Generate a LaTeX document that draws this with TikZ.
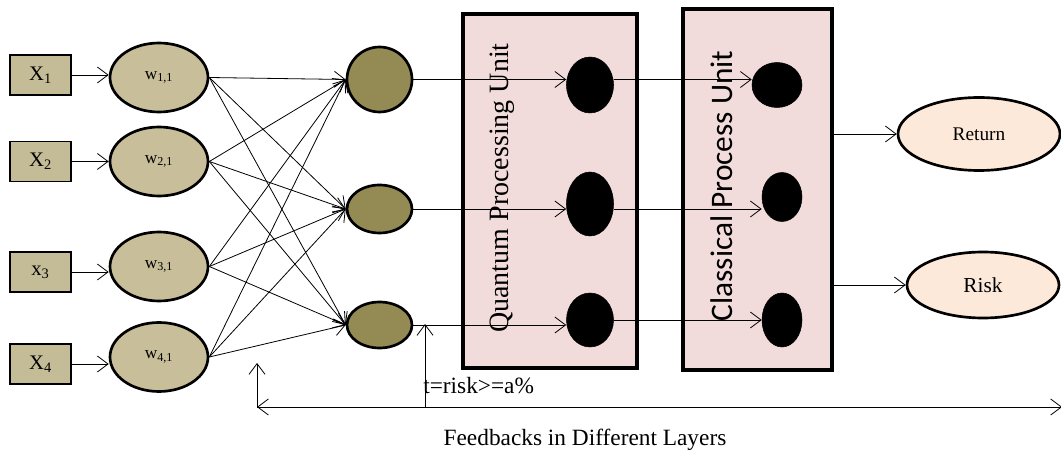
\documentclass[tikz,border=0pt]{standalone}
\usepackage{fontspec}
\setmainfont{Liberation Serif}
\newfontfamily\calfont{Carlito}
\usetikzlibrary{arrows.meta,shapes.geometric}
\definecolor{tanbox}{HTML}{C4BC96}
\definecolor{tanell}{HTML}{C8BF9A}
\definecolor{olive}{HTML}{948A54}
\definecolor{pinkbox}{HTML}{F2DCDB}
\definecolor{peach}{HTML}{FDE9D9}
\begin{document}
\begin{tikzpicture}[x=0.75pt,y=-0.75pt,
  arr/.style={-{Straight Barb[length=8pt,width=12pt]}, line width=0.6pt},
  inbox/.style={draw, line width=1.2pt, fill=tanbox, minimum width=45.75pt, minimum height=30pt, inner sep=0pt, font=\fontsize{15.5}{15.5}\selectfont},
  wnode/.style={ellipse, draw, line width=2pt, fill=tanell, minimum width=73.5pt, minimum height=51.75pt, inner sep=0pt, font=\fontsize{13}{13}\selectfont},
  hnode/.style={ellipse, draw, line width=2pt, fill=olive, inner sep=0pt},
  bnode/.style={ellipse, draw, fill=black, inner sep=0pt},
  unitbox/.style={draw, line width=2.5pt, fill=pinkbox, inner sep=0pt},
  outnode/.style={ellipse, draw, line width=2pt, fill=peach, inner sep=0pt}]
\useasboundingbox (0,0) rectangle (1061,456);

% input boxes
\node[inbox] (x1) at (40.5,75) {X\textsubscript{1}};
\node[inbox] (x2) at (40.5,161.5) {X\textsubscript{2}};
\node[inbox] (x3) at (40.5,272) {x\textsubscript{3}};
\node[inbox] (x4) at (40.5,364) {X\textsubscript{4}};

% weight ellipses
\node[wnode] (w1) at (159,77.5) {w\textsubscript{1,1}};
\node[wnode] (w2) at (159,161.5) {w\textsubscript{2,1}};
\node[wnode] (w3) at (159,266.5) {w\textsubscript{3,1}};
\node[wnode] (w4) at (159,357) {w\textsubscript{4,1}};

% hidden nodes
\node[hnode, minimum width=48.75pt, minimum height=48.75pt] (h1) at (379.5,79.5) {};
\node[hnode, minimum width=48.75pt, minimum height=36pt] (h2) at (379.5,209) {};
\node[hnode, minimum width=48.75pt, minimum height=34.5pt] (h3) at (379.5,325) {};

% unit boxes
\node[unitbox, minimum width=130.5pt, minimum height=265.5pt] (qbox) at (550,191) {};
\node[unitbox, minimum width=111.75pt, minimum height=270.75pt] (cbox) at (757.5,189.5) {};
\node[rotate=90, font=\fontsize{21}{21}\selectfont] (qlab) at (502,188) {Quantum Processing Unit};
\node[rotate=90, font=\calfont\fontsize{23.5}{23.5}\selectfont] (clab) at (722,186) {Classical Process Unit};

% black nodes
\node[bnode, minimum width=35.25pt, minimum height=42pt] (q1) at (590,85) {};
\node[bnode, minimum width=35.25pt, minimum height=48pt] (q2) at (590,204) {};
\node[bnode, minimum width=35.25pt, minimum height=40.5pt] (q3) at (590,320) {};
\node[bnode, minimum width=37.5pt, minimum height=33.75pt] (c1) at (777,85) {};
\node[bnode, minimum width=30pt, minimum height=36.75pt] (c2) at (782,197) {};
\node[bnode, minimum width=30pt, minimum height=40.5pt] (c3) at (782,320) {};

% outputs
\node[outnode, minimum width=121.5pt, minimum height=54.75pt, font=\fontsize{14.5}{14.5}\selectfont] (ret) at (979,134) {Return};
\node[outnode, minimum width=114pt, minimum height=49.5pt, font=\fontsize{16}{16}\selectfont] (risk) at (983,285) {Risk};

% input arrows
\foreach \i in {1,2,3,4} {\draw[arr] (x\i.east) -- (x\i.east -| w\i.west);}
% fully connected
\foreach \i in {1,2,3,4} {\foreach \j in {1,2,3} {\draw[arr] (w\i.east) -- (h\j.west);}}

% rows
\draw[arr] (h1.east) -- (h1.east -| q1.west);
\draw[arr] (h1.east -| q1.east) -- (h1.east -| c1.west);
\draw[arr] (h2.east) -- (h2.east -| q2.west);
\draw[arr] (h2.east -| q2.east) -- (h2.east -| c2.west);
\draw[arr] (h3.east) -- (h3.east -| q3.west);
\draw[arr] (q3.east) -- (c3.west);

% outputs
\draw[arr] (cbox.east |- ret.west) -- (ret.west);
\draw[arr] (cbox.east |- risk.west) -- (risk.west);

% feedback
\coordinate (fbL) at (257,407);
\coordinate (fbR) at (1062,407);
\coordinate (fbM) at (425,407);
\coordinate (fbUp) at (257,363);
\coordinate (fbT) at (425,324);
\draw[arr] (fbR) -- (fbL);
\draw[arr] (fbL) -- (fbR);
\draw[arr] (fbL) -- (fbUp);
\draw[arr] (fbM) -- (fbT);
\node[anchor=west, inner sep=0pt, font=\fontsize{17.5}{17.5}\selectfont] (tlab) at (423,386) {t=risk>=a\%};
\node[font=\fontsize{17.5}{17.5}\selectfont] (fblab) at (585,440) {Feedbacks in Different Layers};
\end{tikzpicture}
\end{document}
